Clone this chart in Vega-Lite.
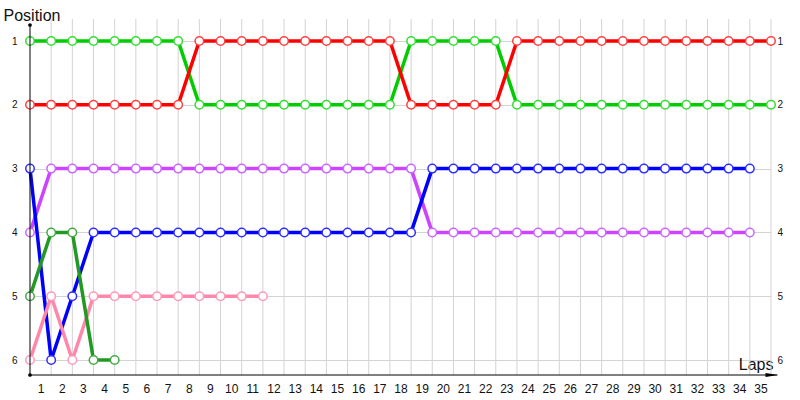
{
  "$schema": "https://vega.github.io/schema/vega-lite/v6.json",
  "width": 741,
  "height": 356,
  "autosize": "none",
  "padding": {"left": 30, "top": 19, "right": 29, "bottom": 25},
  "background": "white",
  "config": {"view": {"stroke": null}, "font": "Liberation Sans"},
  "datasets": {
    "laps": [{"lap":1},{"lap":2},{"lap":3},{"lap":4},{"lap":5},{"lap":6},{"lap":7},{"lap":8},{"lap":9},{"lap":10},{"lap":11},{"lap":12},{"lap":13},{"lap":14},{"lap":15},{"lap":16},{"lap":17},{"lap":18},{"lap":19},{"lap":20},{"lap":21},{"lap":22},{"lap":23},{"lap":24},{"lap":25},{"lap":26},{"lap":27},{"lap":28},{"lap":29},{"lap":30},{"lap":31},{"lap":32},{"lap":33},{"lap":34},{"lap":35}],
    "pos": [
      {"d":"G","lap":0,"p":1},{"d":"G","lap":1,"p":1},{"d":"G","lap":2,"p":1},{"d":"G","lap":3,"p":1},{"d":"G","lap":4,"p":1},{"d":"G","lap":5,"p":1},{"d":"G","lap":6,"p":1},{"d":"G","lap":7,"p":1},
      {"d":"G","lap":8,"p":2},{"d":"G","lap":9,"p":2},{"d":"G","lap":10,"p":2},{"d":"G","lap":11,"p":2},{"d":"G","lap":12,"p":2},{"d":"G","lap":13,"p":2},{"d":"G","lap":14,"p":2},{"d":"G","lap":15,"p":2},{"d":"G","lap":16,"p":2},{"d":"G","lap":17,"p":2},
      {"d":"G","lap":18,"p":1},{"d":"G","lap":19,"p":1},{"d":"G","lap":20,"p":1},{"d":"G","lap":21,"p":1},{"d":"G","lap":22,"p":1},
      {"d":"G","lap":23,"p":2},{"d":"G","lap":24,"p":2},{"d":"G","lap":25,"p":2},{"d":"G","lap":26,"p":2},{"d":"G","lap":27,"p":2},{"d":"G","lap":28,"p":2},{"d":"G","lap":29,"p":2},{"d":"G","lap":30,"p":2},{"d":"G","lap":31,"p":2},{"d":"G","lap":32,"p":2},{"d":"G","lap":33,"p":2},{"d":"G","lap":34,"p":2},{"d":"G","lap":35,"p":2},
      {"d":"R","lap":0,"p":2},{"d":"R","lap":1,"p":2},{"d":"R","lap":2,"p":2},{"d":"R","lap":3,"p":2},{"d":"R","lap":4,"p":2},{"d":"R","lap":5,"p":2},{"d":"R","lap":6,"p":2},{"d":"R","lap":7,"p":2},
      {"d":"R","lap":8,"p":1},{"d":"R","lap":9,"p":1},{"d":"R","lap":10,"p":1},{"d":"R","lap":11,"p":1},{"d":"R","lap":12,"p":1},{"d":"R","lap":13,"p":1},{"d":"R","lap":14,"p":1},{"d":"R","lap":15,"p":1},{"d":"R","lap":16,"p":1},{"d":"R","lap":17,"p":1},
      {"d":"R","lap":18,"p":2},{"d":"R","lap":19,"p":2},{"d":"R","lap":20,"p":2},{"d":"R","lap":21,"p":2},{"d":"R","lap":22,"p":2},
      {"d":"R","lap":23,"p":1},{"d":"R","lap":24,"p":1},{"d":"R","lap":25,"p":1},{"d":"R","lap":26,"p":1},{"d":"R","lap":27,"p":1},{"d":"R","lap":28,"p":1},{"d":"R","lap":29,"p":1},{"d":"R","lap":30,"p":1},{"d":"R","lap":31,"p":1},{"d":"R","lap":32,"p":1},{"d":"R","lap":33,"p":1},{"d":"R","lap":34,"p":1},{"d":"R","lap":35,"p":1},
      {"d":"P","lap":0,"p":4},{"d":"P","lap":1,"p":3},{"d":"P","lap":2,"p":3},{"d":"P","lap":3,"p":3},{"d":"P","lap":4,"p":3},{"d":"P","lap":5,"p":3},{"d":"P","lap":6,"p":3},{"d":"P","lap":7,"p":3},{"d":"P","lap":8,"p":3},{"d":"P","lap":9,"p":3},{"d":"P","lap":10,"p":3},{"d":"P","lap":11,"p":3},{"d":"P","lap":12,"p":3},{"d":"P","lap":13,"p":3},{"d":"P","lap":14,"p":3},{"d":"P","lap":15,"p":3},{"d":"P","lap":16,"p":3},{"d":"P","lap":17,"p":3},{"d":"P","lap":18,"p":3},
      {"d":"P","lap":19,"p":4},{"d":"P","lap":20,"p":4},{"d":"P","lap":21,"p":4},{"d":"P","lap":22,"p":4},{"d":"P","lap":23,"p":4},{"d":"P","lap":24,"p":4},{"d":"P","lap":25,"p":4},{"d":"P","lap":26,"p":4},{"d":"P","lap":27,"p":4},{"d":"P","lap":28,"p":4},{"d":"P","lap":29,"p":4},{"d":"P","lap":30,"p":4},{"d":"P","lap":31,"p":4},{"d":"P","lap":32,"p":4},{"d":"P","lap":33,"p":4},{"d":"P","lap":34,"p":4},
      {"d":"B","lap":0,"p":3},{"d":"B","lap":1,"p":6},{"d":"B","lap":2,"p":5},{"d":"B","lap":3,"p":4},{"d":"B","lap":4,"p":4},{"d":"B","lap":5,"p":4},{"d":"B","lap":6,"p":4},{"d":"B","lap":7,"p":4},{"d":"B","lap":8,"p":4},{"d":"B","lap":9,"p":4},{"d":"B","lap":10,"p":4},{"d":"B","lap":11,"p":4},{"d":"B","lap":12,"p":4},{"d":"B","lap":13,"p":4},{"d":"B","lap":14,"p":4},{"d":"B","lap":15,"p":4},{"d":"B","lap":16,"p":4},{"d":"B","lap":17,"p":4},{"d":"B","lap":18,"p":4},
      {"d":"B","lap":19,"p":3},{"d":"B","lap":20,"p":3},{"d":"B","lap":21,"p":3},{"d":"B","lap":22,"p":3},{"d":"B","lap":23,"p":3},{"d":"B","lap":24,"p":3},{"d":"B","lap":25,"p":3},{"d":"B","lap":26,"p":3},{"d":"B","lap":27,"p":3},{"d":"B","lap":28,"p":3},{"d":"B","lap":29,"p":3},{"d":"B","lap":30,"p":3},{"d":"B","lap":31,"p":3},{"d":"B","lap":32,"p":3},{"d":"B","lap":33,"p":3},{"d":"B","lap":34,"p":3},
      {"d":"K","lap":0,"p":6},{"d":"K","lap":1,"p":5},{"d":"K","lap":2,"p":6},{"d":"K","lap":3,"p":5},{"d":"K","lap":4,"p":5},{"d":"K","lap":5,"p":5},{"d":"K","lap":6,"p":5},{"d":"K","lap":7,"p":5},{"d":"K","lap":8,"p":5},{"d":"K","lap":9,"p":5},{"d":"K","lap":10,"p":5},{"d":"K","lap":11,"p":5},
      {"d":"D","lap":0,"p":5},{"d":"D","lap":1,"p":4},{"d":"D","lap":2,"p":4},{"d":"D","lap":3,"p":6},{"d":"D","lap":4,"p":6}
    ]
  },
  "resolve": {"scale": {"y": "shared", "x": "shared"}, "axis": {"y": "independent", "x": "independent"}},
  "layer": [
    {
      "data": {"name": "laps"},
      "mark": {"type": "rule", "color": "#d3d3d3", "strokeWidth": 1},
      "encoding": {
        "x": {
          "field": "lap", "type": "quantitative",
          "scale": {"domain": [0, 35], "nice": false, "zero": false},
          "axis": {
            "orient": "bottom",
            "values": [0.5,1.5,2.5,3.5,4.5,5.5,6.5,7.5,8.5,9.5,10.5,11.5,12.5,13.5,14.5,15.5,16.5,17.5,18.5,19.5,20.5,21.5,22.5,23.5,24.5,25.5,26.5,27.5,28.5,29.5,30.5,31.5,32.5,33.5,34.5],
            "labelExpr": "toString(datum.value + 0.5)",
            "grid": false, "ticks": false, "domain": false,
            "labelFont": "Liberation Sans", "labelFontSize": 12, "labelColor": "#111111",
            "labelPadding": 8, "labelFlush": false, "labelOverlap": false, "labelSeparation": 0, "labelBound": false,
            "title": "Laps", "titleFont": "Liberation Sans", "titleFontSize": 16, "titleFontWeight": "normal",
            "titleColor": "#111111", "titleAlign": "right",
            "titleX": 743, "titleY": -6, "titleBaseline": "alphabetic"
          }
        }
      }
    },
    {
      "data": {"name": "pos"},
      "mark": {"type": "line", "strokeWidth": 3.5},
      "encoding": {
        "x": {"field": "lap", "type": "quantitative", "axis": null},
        "y": {
          "field": "p", "type": "quantitative",
          "scale": {"domain": [0.655, 6.235], "reverse": true, "nice": false, "zero": false},
          "axis": {
            "orient": "left", "values": [1,2,3,4,5,6], "grid": true, "gridColor": "#d3d3d3",
            "ticks": false, "domain": false, "labelPadding": 13,
            "labelFont": "Liberation Sans", "labelFontSize": 10, "labelColor": "#111111",
            "title": "Position", "titleAngle": 0, "titleAlign": "left",
            "titleX": -27, "titleY": 1, "titleBaseline": "alphabetic",
            "titleFont": "Liberation Sans", "titleFontSize": 16, "titleFontWeight": "normal", "titleColor": "#111111"
          }
        },
        "color": {
          "field": "d", "type": "nominal", "legend": null,
          "scale": {"domain": ["G","R","P","B","K","D"], "range": ["#00cc00","#ff0000","#cc44ff","#0000ff","#ff88aa","#229922"]}
        },
        "order": {"field": "lap"}
      }
    },
    {
      "data": {"name": "pos"},
      "mark": {"type": "point", "shape": "circle", "filled": false, "fill": "white", "fillOpacity": 1, "opacity": 1, "size": 72, "strokeWidth": 1.5},
      "encoding": {
        "x": {"field": "lap", "type": "quantitative", "axis": null},
        "y": {
          "field": "p", "type": "quantitative",
          "axis": {
            "orient": "right", "values": [1,2,3,4,5,6], "grid": false, "ticks": false, "domain": false,
            "labelPadding": 6, "labelFont": "Liberation Sans", "labelFontSize": 10, "labelColor": "#111111", "title": null
          }
        },
        "stroke": {
          "field": "d", "type": "nominal", "legend": null,
          "scale": {"domain": ["G","R","P","B","K","D"], "range": ["#33dd33","#ff4040","#cc66ff","#3030ff","#ff99bb","#44aa44"]}
        }
      }
    },
    {
      "data": {"values": [{}]},
      "mark": {"type": "rule", "color": "black", "strokeWidth": 1},
      "encoding": {
        "x": {"datum": 0, "type": "quantitative", "axis": null},
        "y": {"datum": 0.749, "type": "quantitative", "axis": null},
        "y2": {"datum": 6.235}
      }
    },
    {
      "data": {"values": [{}]},
      "mark": {"type": "rule", "color": "black", "strokeWidth": 1},
      "encoding": {
        "x": {"datum": 0, "type": "quantitative", "axis": null},
        "x2": {"datum": 35.3},
        "y": {"datum": 6.235, "type": "quantitative", "axis": null}
      }
    },
    {
      "data": {"values": [{}]},
      "mark": {"type": "point", "shape": "M -1 -0.3 L 1 0 L -1 0.3 Z", "filled": true, "color": "black", "size": 160, "opacity": 1},
      "encoding": {
        "x": {"datum": 35.04, "type": "quantitative", "axis": null},
        "y": {"datum": 6.235, "type": "quantitative", "axis": null}
      }
    },
    {
      "data": {"values": [{}]},
      "mark": {"type": "point", "shape": "circle", "filled": true, "color": "black", "size": 14, "opacity": 1},
      "encoding": {
        "x": {"datum": 0, "type": "quantitative", "axis": null},
        "y": {"datum": 6.235, "type": "quantitative", "axis": null}
      }
    },
    {
      "data": {"values": [{}]},
      "mark": {"type": "point", "shape": "circle", "filled": true, "color": "black", "size": 14, "opacity": 1},
      "encoding": {
        "x": {"datum": 0, "type": "quantitative", "axis": null},
        "y": {"datum": 0.749, "type": "quantitative", "axis": null}
      }
    }
  ]
}
